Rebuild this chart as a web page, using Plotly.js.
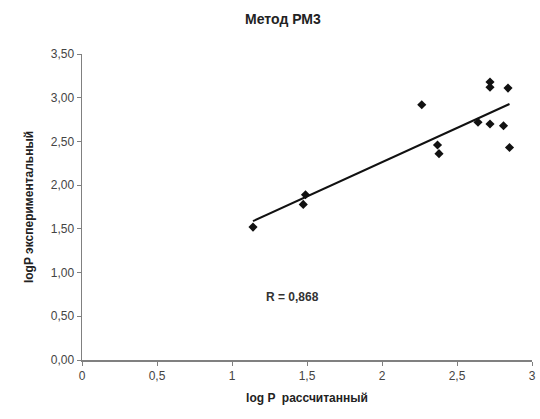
<!DOCTYPE html>
<html>
<head>
<meta charset="utf-8">
<script src="https://cdn.plot.ly/plotly-3.0.1.min.js"></script>
<style>html,body{margin:0;padding:0;background:#fff;}#chart{width:540px;height:419px;}</style>
</head>
<body>
<div id="chart"></div>
<script>
// Data
const logPCalc = [1.14, 1.475, 1.49, 2.265, 2.37, 2.38, 2.64, 2.72, 2.72, 2.72, 2.81, 2.84, 2.85];
const logPExp  = [1.52, 1.78, 1.89, 2.92, 2.46, 2.36, 2.72, 3.18, 3.12, 2.70, 2.68, 3.11, 2.43];
const xTicks = [0, 0.5, 1, 1.5, 2, 2.5, 3];
const yTicks = [0, 0.5, 1, 1.5, 2, 2.5, 3, 3.5];
const chartTitle = "Метод РМ3";
const xTitle = "log P  рассчитанный";
const yTitle = "logP экспериментальный";
const rLabel = "R = 0,868";

// Linear trendline (least squares) from the data
const n = logPCalc.length;
const mx = logPCalc.reduce((a, b) => a + b, 0) / n;
const my = logPExp.reduce((a, b) => a + b, 0) / n;
let sxy = 0, sxx = 0;
for (let i = 0; i < n; i++) { sxy += (logPCalc[i] - mx) * (logPExp[i] - my); sxx += (logPCalc[i] - mx) ** 2; }
const slope = sxy / sxx, intercept = my - slope * mx;
const xMin = Math.min(...logPCalc), xMax = Math.max(...logPCalc);
const trendX = [xMin, xMax];
const trendY = trendX.map(x => intercept + slope * x);

const font = "Liberation Sans, Arial, sans-serif";
const traces = [
  {x: trendX, y: trendY, mode: "lines", type: "scatter", line: {color: "#111", width: 2}, hoverinfo: "skip"},
  {x: logPCalc, y: logPExp, mode: "markers", type: "scatter", marker: {symbol: "diamond", size: 7, color: "#111"}}
];
const layout = {
  width: 540, height: 419,
  margin: {l: 82, r: 8, t: 54, b: 58.5},
  paper_bgcolor: "#fff", plot_bgcolor: "#fff",
  showlegend: false,
  separators: ", ",
  font: {family: font, size: 12, color: "#333"},
  title: {text: "<b>" + chartTitle + "</b>", x: 0.524, xanchor: "center", y: 0.955, yanchor: "middle", font: {family: font, size: 14, color: "#222"}},
  xaxis: {
    range: [0, 3], tickvals: xTicks, tickformat: "", showgrid: false, zeroline: false,
    showline: true, linecolor: "#808080", linewidth: 1.5, ticks: "outside", ticklen: 4, tickcolor: "#808080",
    tickfont: {family: font, size: 12, color: "#444"},
    title: {text: "<b>" + xTitle + "</b>", font: {family: font, size: 12, color: "#222"}, standoff: 11}
  },
  yaxis: {
    range: [0, 3.5], tickvals: yTicks, tickformat: ".2f", showgrid: false, zeroline: false,
    showline: true, linecolor: "#808080", linewidth: 1.5, ticks: "outside", ticklen: 4, tickcolor: "#808080",
    tickfont: {family: font, size: 12, color: "#444"},
    title: {text: "<b>" + yTitle + "</b>", font: {family: font, size: 12, color: "#222"}, standoff: 14}
  },
  annotations: [{x: 1.4, y: 0.72, xref: "x", yref: "y", text: "<b>" + rLabel + "</b>", showarrow: false, font: {family: font, size: 12, color: "#333"}}]
};
Plotly.newPlot("chart", traces, layout, {displayModeBar: false, staticPlot: true});
</script>
</body>
</html>
